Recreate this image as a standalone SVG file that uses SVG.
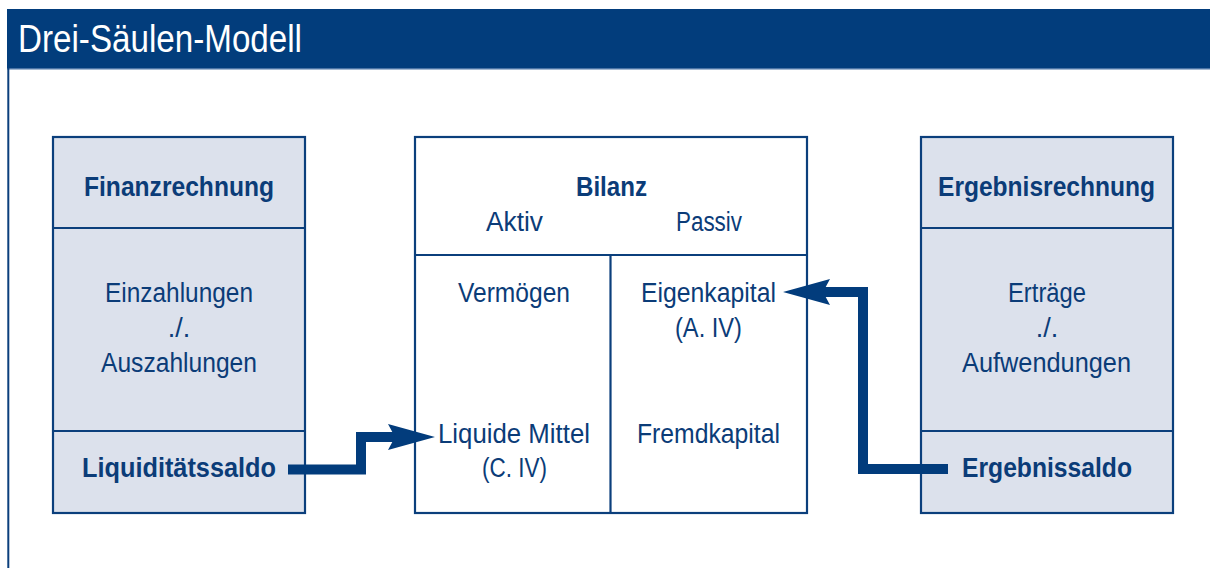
<svg xmlns="http://www.w3.org/2000/svg" width="1210" height="568" viewBox="0 0 1210 568">
<style>
.t{font-family:"Liberation Sans",Arial,sans-serif;font-size:27px;fill:#0b3c78;text-anchor:middle}
.b{font-weight:bold}
.box{fill:#dce1ec;stroke:#0b3f7c;stroke-width:2.2}
.wbox{fill:#ffffff;stroke:#0b3f7c;stroke-width:2.2}
.div{stroke:#0b3f7c;stroke-width:2.2}
.shaft{fill:none;stroke:#023c7c;stroke-width:10;stroke-linejoin:miter}
.head{fill:#023c7c}
</style>
<rect x="0" y="0" width="1210" height="568" fill="#ffffff"/>
<g id="header">
<rect x="7" y="9" width="1203" height="59" fill="#023d7c"/>
<line x1="7" y1="68.7" x2="1210" y2="68.7" stroke="#4a74a6" stroke-width="1.4"/>
<line x1="8.3" y1="68" x2="8.3" y2="568" stroke="#0b3f7c" stroke-width="2"/>
<text x="18" y="52" font-family="Liberation Sans, Arial, sans-serif" font-size="38" fill="#ffffff" textLength="284" lengthAdjust="spacingAndGlyphs">Drei-Säulen-Modell</text>
</g>
<g id="finanzrechnung">
<rect class="box" x="53" y="137" width="252" height="376"/>
<line class="div" x1="53" y1="228" x2="305" y2="228"/>
<line class="div" x1="53" y1="431" x2="305" y2="431"/>
<text class="t b" x="179" y="196" textLength="190" lengthAdjust="spacingAndGlyphs">Finanzrechnung</text>
<text class="t" x="179" y="302" textLength="148" lengthAdjust="spacingAndGlyphs">Einzahlungen</text>
<text class="t" x="179" y="337">./.</text>
<text class="t" x="179" y="372" textLength="156" lengthAdjust="spacingAndGlyphs">Auszahlungen</text>
<text class="t b" x="179" y="477" textLength="194" lengthAdjust="spacingAndGlyphs">Liquiditätssaldo</text>
</g>
<g id="bilanz">
<rect class="wbox" x="415" y="137" width="392" height="376"/>
<line class="div" x1="415" y1="255" x2="807" y2="255"/>
<line class="div" x1="610.5" y1="255" x2="610.5" y2="513"/>
<text class="t b" x="611.5" y="196" textLength="71" lengthAdjust="spacingAndGlyphs">Bilanz</text>
<text class="t" x="514.5" y="231" textLength="57" lengthAdjust="spacingAndGlyphs">Aktiv</text>
<text class="t" x="709" y="231" textLength="66" lengthAdjust="spacingAndGlyphs">Passiv</text>
<text class="t" x="514" y="302" textLength="112" lengthAdjust="spacingAndGlyphs">Vermögen</text>
<text class="t" x="708.5" y="302" textLength="135" lengthAdjust="spacingAndGlyphs">Eigenkapital</text>
<text class="t" x="708.5" y="337" textLength="67" lengthAdjust="spacingAndGlyphs">(A. IV)</text>
<text class="t" x="514" y="443" textLength="152" lengthAdjust="spacingAndGlyphs">Liquide Mittel</text>
<text class="t" x="514.5" y="477" textLength="65" lengthAdjust="spacingAndGlyphs">(C. IV)</text>
<text class="t" x="708.5" y="443" textLength="143" lengthAdjust="spacingAndGlyphs">Fremdkapital</text>
</g>
<g id="ergebnisrechnung">
<rect class="box" x="921" y="137" width="252" height="376"/>
<line class="div" x1="921" y1="228" x2="1173" y2="228"/>
<line class="div" x1="921" y1="431" x2="1173" y2="431"/>
<text class="t b" x="1046.5" y="196" textLength="217" lengthAdjust="spacingAndGlyphs">Ergebnisrechnung</text>
<text class="t" x="1047" y="302" textLength="78" lengthAdjust="spacingAndGlyphs">Erträge</text>
<text class="t" x="1047" y="337">./.</text>
<text class="t" x="1046.5" y="372" textLength="169" lengthAdjust="spacingAndGlyphs">Aufwendungen</text>
<text class="t b" x="1047" y="477" textLength="170" lengthAdjust="spacingAndGlyphs">Ergebnissaldo</text>
</g>
<g id="connectors">
<path class="shaft" d="M288,469.5 H361 V437 H396"/>
<polygon class="head" points="435,437 388,424 395,437 388,450"/>
<path class="shaft" d="M948,469 H863 V292 H823"/>
<polygon class="head" points="783,292 830,279 823,292 830,305"/>
</g>
</svg>
